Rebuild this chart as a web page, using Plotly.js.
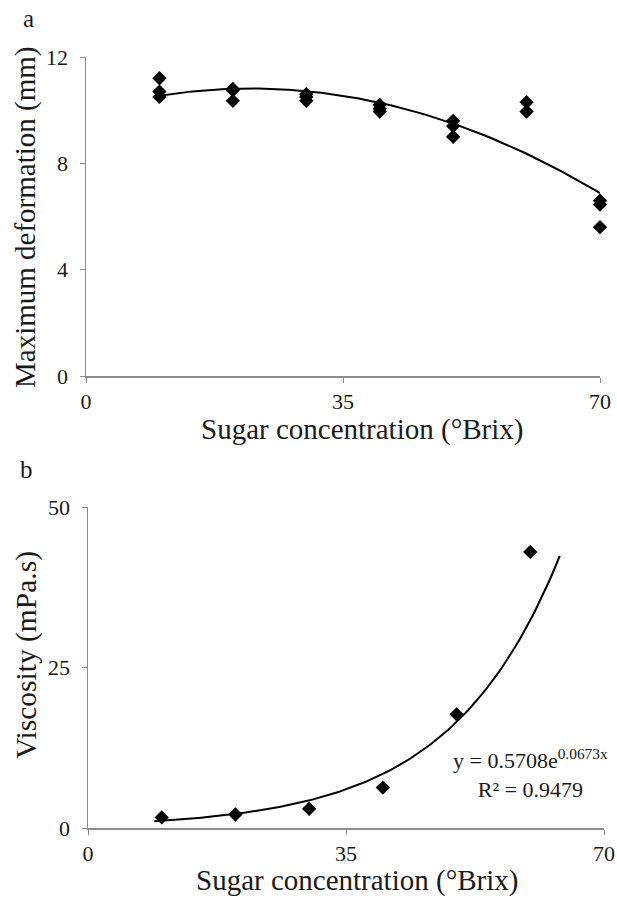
<!DOCTYPE html>
<html>
<head>
<meta charset="utf-8">
<script src="https://cdn.plot.ly/plotly-3.0.1.min.js"></script>
<style>html,body{margin:0;padding:0;background:#fff;}#chart{width:617px;height:900px;}</style>
</head>
<body>
<div id="chart"></div>
<script>
// ---- Panel a: maximum deformation ----
const sugarA = [10,10,10, 20,20,20, 30,30,30, 40,40,40, 50,50,50, 60,60, 70,70,70];
const deformation = [11.2,10.7,10.5, 10.8,10.75,10.35, 10.6,10.5,10.35, 10.2,10.05,9.95, 9.6,9.4,9.0, 10.3,9.95, 6.6,6.45,5.6];

// ---- Panel b: viscosity ----
const sugarB = [10, 20, 30, 40, 50, 60];
const viscosity = [1.65, 2.1, 3.0, 6.3, 17.7, 43.0];
const expA = 0.5708, expB = 0.0673, expR2 = 0.9479;
const expRange = [9, 64];

const xTicks = [0, 35, 70];
const yTicksA = [0, 4, 8, 12];
const yTicksB = [0, 25, 50];
const xTitle = 'Sugar concentration (°Brix)';
const yTitleA = 'Maximum deformation (mm)';
const yTitleB = 'Viscosity (mPa.s)';

// quadratic least squares trendline for panel a (like Excel's polynomial trendline)
function polyFit2(xs, ys) {
  let S = [0,0,0,0,0], T = [0,0,0];
  for (let i = 0; i < xs.length; i++) {
    let p = 1;
    for (let k = 0; k < 5; k++) { S[k] += p; if (k < 3) T[k] += p * ys[i]; p *= xs[i]; }
  }
  const M = [[S[0],S[1],S[2],T[0]],[S[1],S[2],S[3],T[1]],[S[2],S[3],S[4],T[2]]];
  for (let c = 0; c < 3; c++) {
    for (let r = c+1; r < 3; r++) {
      const f = M[r][c]/M[c][c];
      for (let k = c; k < 4; k++) M[r][k] -= f*M[c][k];
    }
  }
  const sol = [0,0,0];
  for (let r = 2; r >= 0; r--) {
    let s = M[r][3];
    for (let k = r+1; k < 3; k++) s -= M[r][k]*sol[k];
    sol[r] = s/M[r][r];
  }
  return sol;
}
const coefA = polyFit2(sugarA, deformation);
const xMinA = Math.min(...sugarA), xMaxA = Math.max(...sugarA);
const trendAx = [], trendAy = [];
for (let i = 0; i <= 120; i++) {
  const x = xMinA + (xMaxA - xMinA) * i / 120;
  trendAx.push(x); trendAy.push(coefA[0] + coefA[1]*x + coefA[2]*x*x);
}
const trendBx = [], trendBy = [];
for (let i = 0; i <= 120; i++) {
  const x = expRange[0] + (expRange[1] - expRange[0]) * i / 120;
  trendBx.push(x); trendBy.push(expA * Math.exp(expB * x));
}

const FONT = "Liberation Serif, Times New Roman, serif";
const TXT = '#1a1a1a';
const AX = '#8c8c8c';

function axisX(domain, anchor) {
  return {
    domain: domain, anchor: anchor, range: [0, 70], tickvals: xTicks,
    ticks: 'outside', ticklen: 5, tickcolor: AX, tickwidth: 1,
    showline: true, linecolor: AX, linewidth: 1.5, showgrid: false, zeroline: false,
    tickfont: {family: FONT, size: 22, color: TXT}, ticklabelstandoff: 0
  };
}
function axisY(domain, anchor, range, tickvals) {
  return {
    domain: domain, anchor: anchor, range: range, tickvals: tickvals,
    ticks: 'outside', ticklen: 5, tickcolor: AX, tickwidth: 1,
    showline: true, linecolor: AX, linewidth: 1.5, showgrid: false, zeroline: false,
    tickfont: {family: FONT, size: 22, color: TXT}, ticklabelstandoff: 7
  };
}
function label(text, x, y, size, angle) {
  return {text: text, xref: 'paper', yref: 'paper', x: x/617, y: 1 - y/900, showarrow: false,
          xanchor: 'center', yanchor: 'middle', textangle: angle || 0, align: 'center',
          font: {family: FONT, size: size, color: TXT}};
}

const marker = {symbol: 'diamond', size: 11, color: '#000'};
const data = [
  {x: sugarA, y: deformation, type: 'scatter', mode: 'markers', marker: marker, xaxis: 'x', yaxis: 'y', cliponaxis: false},
  {x: trendAx, y: trendAy, type: 'scatter', mode: 'lines', line: {color: '#000', width: 2}, xaxis: 'x', yaxis: 'y', cliponaxis: false},
  {x: sugarB, y: viscosity, type: 'scatter', mode: 'markers', marker: marker, xaxis: 'x2', yaxis: 'y2', cliponaxis: false},
  {x: trendBx, y: trendBy, type: 'scatter', mode: 'lines', line: {color: '#000', width: 2}, xaxis: 'x2', yaxis: 'y2', cliponaxis: false}
];

const layout = {
  width: 617, height: 900,
  margin: {l: 0, r: 0, t: 0, b: 0},
  paper_bgcolor: '#fff', plot_bgcolor: '#fff',
  showlegend: false,
  xaxis: axisX([86/617, 600/617], 'y'),
  yaxis: axisY([1 - 376/900, 1 - 57/900], 'x', [0, 12], yTicksA),
  xaxis2: axisX([88/617, 604/617], 'y2'),
  yaxis2: axisY([1 - 828/900, 1 - 507/900], 'x2', [0, 50], yTicksB),
  annotations: [
    label('a', 28, 19, 25),
    label('b', 26, 469, 25),
    label(xTitle, 362, 429, 29),
    label(xTitle, 357, 880, 29),
    label(yTitleA, 26, 217, 29, -90),
    label(yTitleB, 26, 655, 29.5, -90),
    label('y = ' + expA + 'e<sup>' + expB + 'x</sup><br>R² = ' + expR2, 530, 773, 22)
  ]
};

Plotly.newPlot('chart', data, layout, {displayModeBar: false, staticPlot: true});
</script>
</body>
</html>
